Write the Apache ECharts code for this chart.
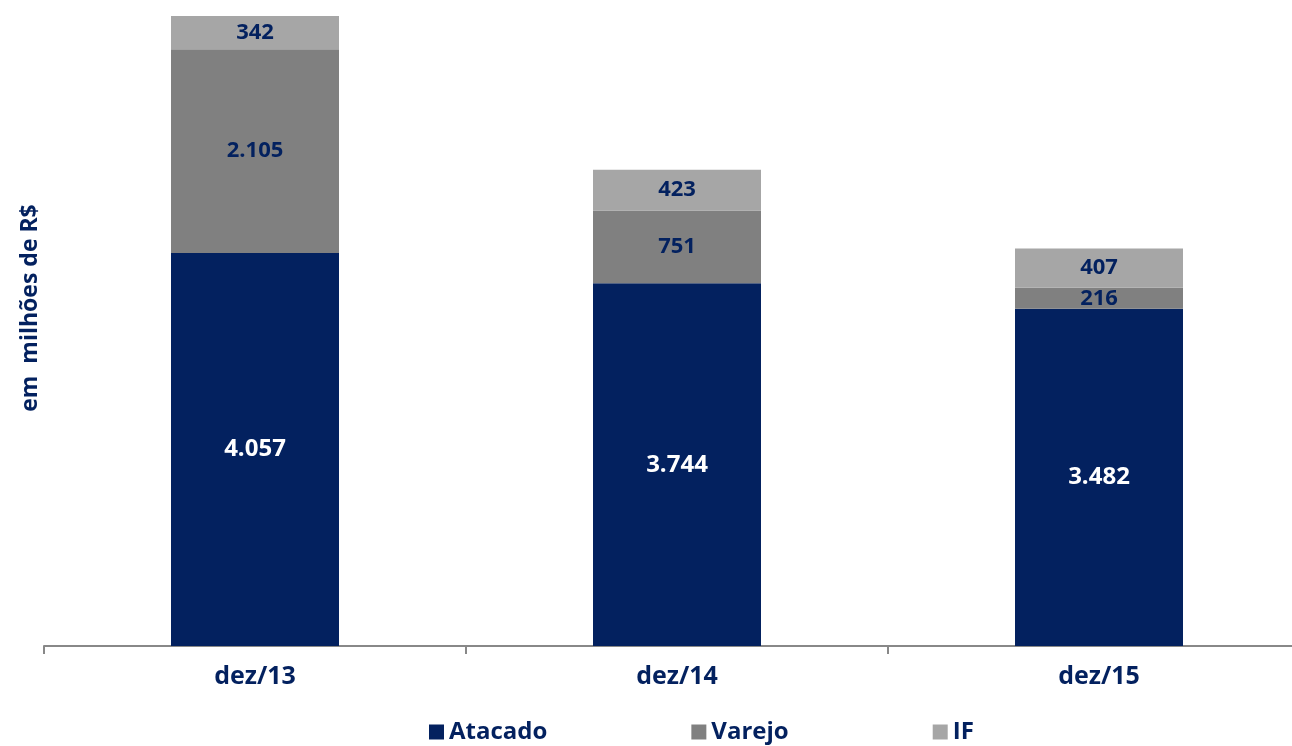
<!DOCTYPE html>
<html lang="pt">

<head>
    <meta charset="UTF-8">
    <title>Carteira</title>
    <script src="https://cdn.jsdelivr.net/npm/echarts/dist/echarts.min.js"></script>
    <style>
        html, body {
            margin: 0;
            height: 100%;
            background: #fff;
        }

        #chart {
            width: 1292px;
            height: 746px;
        }
    </style>
</head>

<body>
    <div id="chart"></div>
    <script>
        var categories = ['dez/13', 'dez/14', 'dez/15'];
        var atacado = [4057, 3744, 3482];
        var varejo = [2105, 751, 216];
        var inst_fin = [342, 423, 407];

        var font = '"Open Sans", "Noto Sans", sans-serif';
        var navy = '#03215f';

        // 1.234 style
        function fmt(v) {
            return String(v).replace(/\B(?=(\d{3})+(?!\d))/g, '.');
        }

        function serie(name, data, color, labelColor, fs) {
            return {
                name: name,
                type: 'bar',
                stack: 'total',
                data: data,
                barWidth: 168,
                itemStyle: { color: color },
                label: {
                    show: true,
                    position: 'inside',
                    color: labelColor,
                    fontFamily: font,
                    fontWeight: 'bold',
                    fontSize: fs,
                    formatter: function (p) { return fmt(p.value); }
                },
                animation: false
            };
        }

        var myChart = echarts.init(document.getElementById('chart'));
        myChart.setOption({
            animation: false,
            // plot runs past the right edge like the original
            grid: { left: 44, width: 1266, top: 16, bottom: 100, outerBoundsMode: 'none', containLabel: false },
            legend: {
                top: 715,
                left: 424,
                itemWidth: 15,
                itemHeight: 15,
                itemGap: 144,
                icon: 'rect',
                textStyle: { color: navy, fontFamily: font, fontWeight: 'bold', fontSize: 24 },
                data: ['Atacado', 'Varejo', 'IF']
            },
            xAxis: {
                type: 'category',
                data: categories,
                axisLine: { lineStyle: { color: '#888', width: 2 } },
                axisTick: { show: true, length: 8, lineStyle: { color: '#888', width: 2 } },
                axisLabel: { color: navy, fontFamily: font, fontWeight: 'bold', fontSize: 25, margin: 18 }
            },
            yAxis: {
                type: 'value',
                min: 0,
                max: 6504,
                show: false
            },
            graphic: [{
                type: 'text',
                x: 30,
                y: 308,
                rotation: Math.PI / 2,
                style: {
                    text: 'em  milhões de R$',
                    fill: navy,
                    font: 'bold 23px ' + font,
                    textAlign: 'center',
                    textVerticalAlign: 'middle'
                }
            }],
            series: [
                serie('Atacado', atacado, navy, '#fff', 24),
                serie('Varejo', varejo, '#808080', navy, 22),
                serie('IF', inst_fin, '#a6a6a6', navy, 22)
            ]
        });
    </script>
</body>

</html>
